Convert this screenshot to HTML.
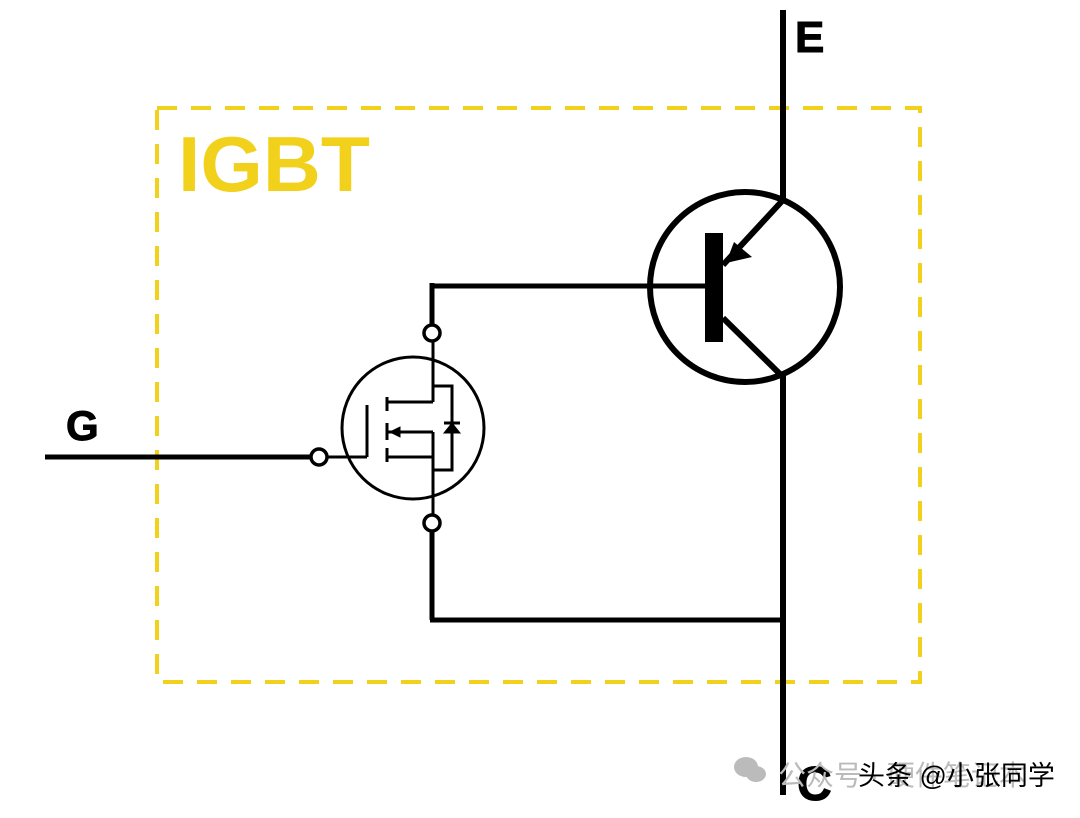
<!DOCTYPE html>
<html><head><style>body{margin:0;background:#fff;width:1080px;height:813px;overflow:hidden}</style></head><body>
<svg width="1080" height="813" viewBox="0 0 1080 813" xmlns="http://www.w3.org/2000/svg">
<rect x="157" y="108" width="763" height="574" fill="none" stroke="#f2d11c" stroke-width="4" stroke-dasharray="20,14"/>
<text x="178" y="191" font-family="Liberation Sans, sans-serif" font-weight="bold" font-size="78" fill="#f2d11c" textLength="192" lengthAdjust="spacingAndGlyphs">IGBT</text>
<g stroke="#000" fill="none" stroke-linecap="butt">
<line x1="783" y1="10" x2="783" y2="200" stroke-width="6"/>
<line x1="783" y1="375" x2="783" y2="795" stroke-width="6"/>
<circle cx="745" cy="287" r="95" stroke-width="6"/>
<line x1="723" y1="265" x2="783" y2="200" stroke-width="6"/>
<line x1="723" y1="318" x2="783" y2="377" stroke-width="6"/>
<line x1="432" y1="286" x2="708" y2="286" stroke-width="5"/>
<line x1="432" y1="283" x2="432" y2="325" stroke-width="5"/>
<line x1="432" y1="531" x2="432" y2="620" stroke-width="5"/>
<line x1="430" y1="620" x2="786" y2="620" stroke-width="5"/>
<line x1="45" y1="457" x2="311" y2="457" stroke-width="5"/>
<circle cx="319" cy="457" r="8" stroke-width="3.5"/>
<circle cx="432" cy="333" r="8" stroke-width="3.5"/>
<circle cx="432" cy="523" r="8" stroke-width="3.5"/>
<circle cx="413" cy="428" r="71" stroke-width="3"/>
<g stroke-width="3">
<line x1="327" y1="457" x2="367" y2="457"/>
<line x1="367" y1="457" x2="367" y2="405"/>
<line x1="387" y1="397" x2="387" y2="411"/>
<line x1="387" y1="423" x2="387" y2="440"/>
<line x1="387" y1="448" x2="387" y2="462"/>
<line x1="387" y1="402" x2="433" y2="402"/>
<line x1="387" y1="432" x2="433" y2="432"/>
<line x1="387" y1="457" x2="433" y2="457"/>
<line x1="433" y1="341" x2="433" y2="402"/>
<line x1="433" y1="432" x2="433" y2="515"/>
<polyline points="433,386 452,386 452,470 433,470"/>
<line x1="444" y1="423" x2="460" y2="423"/>
</g>
<polygon points="444,433 460,433 452,423" fill="#000" stroke-width="1"/>
<polygon points="390,432 400,427 400,437" fill="#000" stroke-width="1"/>
</g>
<rect x="705" y="233" width="18" height="109" fill="#000"/>
<polygon points="726,263 734,242 752,257" fill="#000"/>
<g font-family="Liberation Sans, sans-serif" font-weight="bold" fill="#000" stroke="#000" stroke-width="1">
<text x="795" y="52" font-size="44">E</text>
<text x="66" y="440" font-size="42">G</text>
<text x="797" y="800" font-size="48">C</text>
</g>
<g fill="#bbb"><ellipse cx="746" cy="767" rx="12" ry="10"/><ellipse cx="756" cy="774" rx="10" ry="8"/></g>
<text x="778" y="785" font-family="Liberation Sans, Noto Sans CJK SC, sans-serif" font-size="28" fill="#bbb">公众号 · 硬件笔记本</text>
<text x="858" y="785" font-family="Liberation Sans, Noto Sans CJK SC, sans-serif" font-size="27" fill="#000">头条 @小张同学</text>
</svg>
</body></html>
